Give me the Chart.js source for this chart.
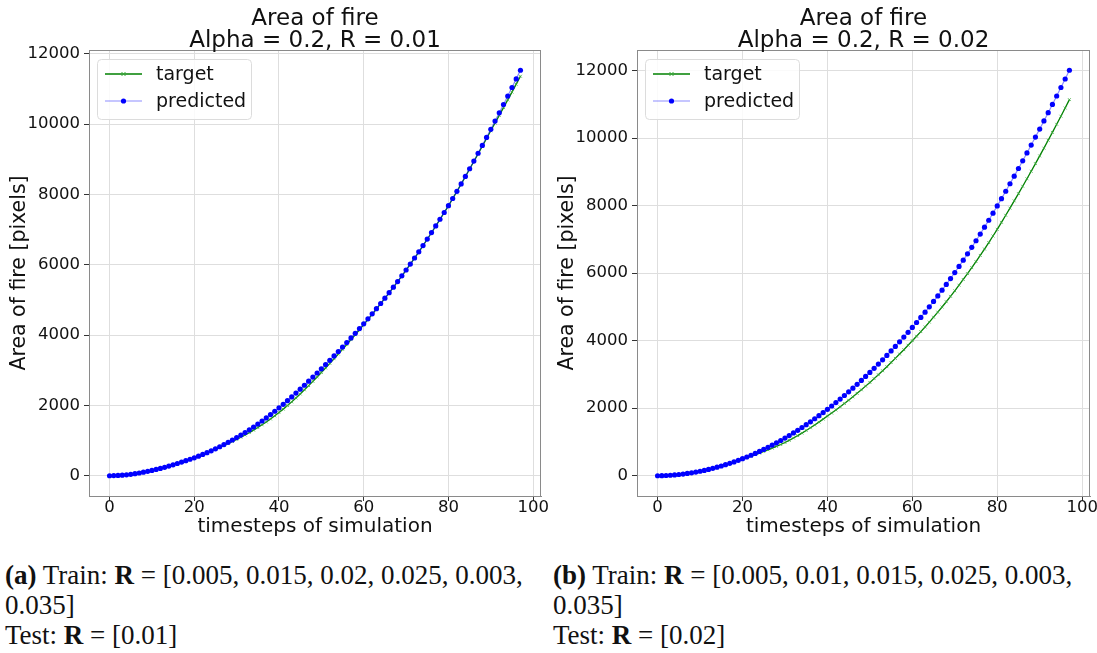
<!DOCTYPE html>
<html>
<head>
<meta charset="utf-8">
<title>Area of fire</title>
<script src="https://cdn.jsdelivr.net/npm/chart.js@4.4.1/dist/chart.umd.min.js"></script>
<style>
  body { margin: 0; background: #fff; }
  #figure { position: relative; width: 1097px; height: 653px; overflow: hidden; }
  #figure canvas { position: absolute; top: 0; }
  .caption {
    position: absolute;
    font-family: 'Liberation Serif', 'DejaVu Serif', serif;
    font-size: 27px;
    line-height: 30px;
    color: #111;
    white-space: nowrap;
  }
</style>
</head>
<body>
<div id="figure">
  <canvas id="chartA" width="548" height="545" style="left:0"></canvas>
  <canvas id="chartB" width="549" height="545" style="left:548px"></canvas>
  <div class="caption" style="left:5px; top:560px">
    <b>(a)</b> Train: <b>R</b> = [0.005, 0.015, 0.02, 0.025, 0.003,<br>0.035]<br>Test: <b>R</b> = [0.01]
  </div>
  <div class="caption" style="left:553px; top:560px">
    <b>(b)</b> Train: <b>R</b> = [0.005, 0.01, 0.015, 0.025, 0.003,<br>0.035]<br>Test: <b>R</b> = [0.02]
  </div>
</div>
<script>
// x axis: simulation timesteps 0..97
const timesteps = Array.from({ length: 98 }, (_, i) => i);
const xTicks = [0, 20, 40, 60, 80, 100];
const yTicks = [0, 2000, 4000, 6000, 8000, 10000, 12000];

// test run R = 0.01
const targetA = [
  0, 3, 9, 17, 27, 40, 58, 77, 99, 123,
  149, 177, 206, 238, 272, 307, 345, 384, 424, 464,
  506, 552, 600, 650, 703, 755, 807, 861, 917, 974,
  1035, 1095, 1158, 1226, 1296, 1370, 1448, 1528, 1613, 1703,
  1795, 1894, 1995, 2100, 2211, 2325, 2443, 2563, 2684, 2809,
  2935, 3064, 3195, 3327, 3461, 3595, 3732, 3871, 4010, 4152,
  4295, 4441, 4589, 4740, 4893, 5045, 5200, 5357, 5517, 5679,
  5845, 6014, 6186, 6361, 6541, 6725, 6910, 7098, 7288, 7480,
  7675, 7878, 8084, 8294, 8507, 8722, 8936, 9154, 9374, 9591,
  9810, 10029, 10249, 10467, 10687, 10910, 11135, 11360
];
const predictedA = [
  0, 3, 9, 17, 27, 40, 58, 78, 100, 124,
  150, 178, 208, 240, 274, 310, 348, 387, 427, 468,
  510, 557, 605, 655, 709, 765, 824, 886, 950, 1016,
  1085, 1155, 1228, 1306, 1386, 1470, 1556, 1645, 1738, 1833,
  1930, 2031, 2134, 2240, 2349, 2460, 2573, 2688, 2804, 2921,
  3040, 3161, 3283, 3407, 3533, 3660, 3789, 3919, 4050, 4184,
  4320, 4461, 4604, 4750, 4898, 5050, 5205, 5362, 5522, 5684,
  5850, 6019, 6191, 6366, 6546, 6730, 6915, 7103, 7293, 7485,
  7680, 7883, 8089, 8299, 8512, 8730, 8948, 9170, 9394, 9621,
  9850, 10084, 10319, 10557, 10797, 11040, 11285, 11530
];

// test run R = 0.02
const targetB = [
  0, 2, 7, 14, 23, 35, 49, 65, 84, 105,
  129, 155, 183, 214, 248, 284, 321, 359, 400, 443,
  488, 534, 579, 624, 670, 718, 767, 817, 869, 924,
  984, 1048, 1117, 1188, 1263, 1340, 1420, 1503, 1588, 1677,
  1768, 1856, 1948, 2041, 2138, 2236, 2336, 2440, 2545, 2654,
  2764, 2876, 2992, 3109, 3230, 3352, 3476, 3604, 3733, 3866,
  4000, 4132, 4268, 4407, 4550, 4696, 4845, 4998, 5154, 5314,
  5477, 5643, 5813, 5986, 6163, 6343, 6527, 6715, 6906, 7101,
  7300, 7506, 7715, 7926, 8141, 8356, 8575, 8796, 9019, 9245,
  9473, 9703, 9937, 10171, 10410, 10650, 10892, 11140
];
const predictedB = [
  0, 2, 7, 14, 24, 36, 50, 67, 86, 108,
  132, 158, 187, 218, 252, 288, 326, 367, 410, 456,
  504, 554, 607, 662, 720, 780, 842, 907, 974, 1044,
  1116, 1190, 1267, 1346, 1428, 1512, 1598, 1687, 1778, 1872,
  1968, 2066, 2167, 2270, 2376, 2484, 2594, 2707, 2822, 2940,
  3060, 3182, 3307, 3434, 3564, 3696, 3830, 3967, 4106, 4248,
  4392, 4539, 4690, 4844, 5002, 5163, 5327, 5495, 5666, 5841,
  6019, 6200, 6385, 6573, 6765, 6960, 7159, 7362, 7568, 7778,
  7991, 8208, 8427, 8649, 8874, 9100, 9329, 9561, 9794, 10031,
  10269, 10510, 10754, 10999, 11248, 11499, 11751, 12010
];

const FONT = "'DejaVu Sans', sans-serif";
Chart.defaults.font.family = FONT;
Chart.defaults.color = '#111';

// 5% padding around the data, like matplotlib autoscale
function padRange(values) {
  const lo = Math.min(...values), hi = Math.max(...values);
  const pad = (hi - lo) * 0.05;
  return [lo - pad, hi + pad];
}

function drawMarker(ctx, style, x, y, color) {
  ctx.save();
  if (style === 'crossRot') {
    ctx.strokeStyle = color;
    ctx.lineWidth = 1;
    ctx.beginPath();
    ctx.moveTo(x - 2, y - 2); ctx.lineTo(x + 2, y + 2);
    ctx.moveTo(x - 2, y + 2); ctx.lineTo(x + 2, y - 2);
    ctx.stroke();
  } else {
    ctx.fillStyle = color;
    ctx.beginPath();
    ctx.arc(x, y, 2.6, 0, Math.PI * 2);
    ctx.fill();
  }
  ctx.restore();
}

// frame box, two-line title and the legend box inside the plot
const figureParts = {
  id: 'figureParts',
  afterDraw(chart, args, opts) {
    const { ctx, chartArea: a } = chart;
    ctx.save();
    ctx.strokeStyle = '#8a8a8a';
    ctx.lineWidth = 1;
    ctx.strokeRect(a.left + 0.5, a.top + 0.5, a.right - a.left - 1, a.bottom - a.top);

    ctx.fillStyle = '#111';
    ctx.textAlign = 'center';
    ctx.textBaseline = 'alphabetic';
    ctx.font = `23px ${FONT}`;
    const cx = (a.left + a.right) / 2;
    opts.title.forEach((line, i) => ctx.fillText(line, cx, 25 + i * 22));

    // legend
    const lx = a.left + 8, ly = a.top + 9, lw = 154, lh = 60;
    ctx.fillStyle = 'rgba(255,255,255,0.85)';
    ctx.strokeStyle = '#dcdcdc';
    ctx.beginPath();
    ctx.roundRect(lx + 0.5, ly + 0.5, lw, lh, 4);
    ctx.fill();
    ctx.stroke();

    ctx.font = `19px ${FONT}`;
    ctx.textAlign = 'left';
    ctx.textBaseline = 'middle';
    chart.data.datasets.forEach((ds, i) => {
      const y = ly + 15 + i * 27;
      ctx.strokeStyle = ds.borderColor;
      ctx.lineWidth = ds.borderWidth;
      ctx.beginPath();
      ctx.moveTo(lx + 8, y);
      ctx.lineTo(lx + 45, y);
      ctx.stroke();
      drawMarker(ctx, ds.pointStyle, lx + 26.5, y, ds.pointBorderColor);
      ctx.fillStyle = '#111';
      ctx.fillText(ds.label, lx + 59, y + 1);
    });
    ctx.restore();
  }
};

function makeChart(id, subtitle, target, predicted) {
  const [yMin, yMax] = padRange(target.concat(predicted));
  return new Chart(document.getElementById(id), {
    type: 'line',
    data: {
      labels: timesteps,
      datasets: [
        {
          label: 'target',
          data: target,
          order: 1,
          borderColor: '#008000',
          borderWidth: 1.3,
          pointStyle: 'crossRot',
          pointRadius: 2,
          pointBorderWidth: 0.8,
          pointBorderColor: '#3aa83a',
          pointBackgroundColor: '#3aa83a'
        },
        {
          label: 'predicted',
          data: predicted,
          order: 0,
          borderColor: 'rgba(0,0,255,0.45)',
          borderWidth: 1.2,
          pointStyle: 'circle',
          pointRadius: 2.6,
          pointBorderWidth: 0,
          pointBorderColor: '#0000ff',
          pointBackgroundColor: '#0000ff'
        }
      ]
    },
    options: {
      responsive: false,
      animation: false,
      devicePixelRatio: 1,
      layout: { padding: { top: 50, right: 7, left: 0, bottom: 0 } },
      plugins: {
        legend: { display: false },
        tooltip: { enabled: false },
        figureParts: { title: ['Area of fire', subtitle] }
      },
      scales: {
        x: {
          type: 'linear',
          min: -4.85,
          max: 101.85,
          afterBuildTicks: axis => { axis.ticks = xTicks.map(v => ({ value: v })); },
          afterFit: axis => { axis.height = 49; },
          grid: { color: '#dedede', tickColor: '#333', tickLength: 5 },
          border: { color: '#8a8a8a' },
          ticks: { font: { size: 16.5 }, color: '#111', padding: -3, maxRotation: 0 },
          title: { display: true, text: 'timesteps of simulation', font: { size: 20 }, color: '#111', padding: { top: 0, bottom: 6 } }
        },
        y: {
          min: yMin,
          max: yMax,
          afterBuildTicks: axis => { axis.ticks = yTicks.map(v => ({ value: v })); },
          afterFit: axis => { axis.width = 89; },
          grid: { color: '#dedede', tickColor: '#333', tickLength: 5 },
          border: { color: '#8a8a8a' },
          ticks: { font: { size: 16.5 }, color: '#111', padding: 4, callback: v => String(v) },
          title: { display: true, text: 'Area of fire [pixels]', font: { size: 20.5 }, color: '#111', padding: { top: 7, bottom: 0 } }
        }
      }
    },
    plugins: [figureParts]
  });
}

makeChart('chartA', 'Alpha = 0.2, R = 0.01', targetA, predictedA);
makeChart('chartB', 'Alpha = 0.2, R = 0.02', targetB, predictedB);
</script>
</body>
</html>
